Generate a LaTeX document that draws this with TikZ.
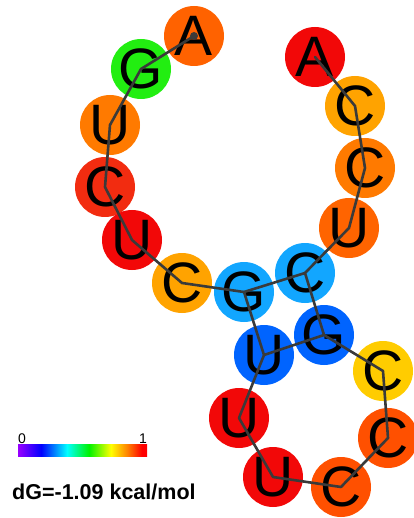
\documentclass[tikz,border=0pt]{standalone}
\usepackage{fontspec}
\setmainfont{Liberation Sans}
\definecolor{cA1}{RGB}{255,98,0}
\definecolor{cG2}{RGB}{34,238,17}
\definecolor{cor}{RGB}{255,122,0}
\definecolor{crd}{RGB}{242,44,16}
\definecolor{red1}{RGB}{242,8,8}
\definecolor{cyo}{RGB}{255,163,0}
\definecolor{lblue}{RGB}{18,166,255}
\definecolor{dblue}{RGB}{0,100,255}
\definecolor{cor2}{RGB}{255,80,0}
\definecolor{cyel}{RGB}{255,204,0}
\definecolor{cor3}{RGB}{255,100,0}
\definecolor{linegray}{RGB}{58,58,58}
\pgfdeclarehorizontalshading{rainbowbar}{100bp}{rgb(0bp)=(0.6,0,1); rgb(25bp)=(0.6,0,1); rgb(34bp)=(0,0,1); rgb(44bp)=(0,1,1); rgb(52.5bp)=(0,0.95,0); rgb(61bp)=(1,1,0); rgb(67.5bp)=(1,0.5,0); rgb(73bp)=(1,0,0); rgb(100bp)=(1,0,0)}
\tikzset{
  nt/.style={circle, minimum size=60pt, inner sep=0pt},
  ltr/.style={font=\fontsize{57}{57}\selectfont, inner sep=0pt},
  bb/.style={line width=2.6pt, draw=linegray, line join=round, line cap=round},
}
\begin{document}
\begin{tikzpicture}[x=1pt,y=-1pt]
\useasboundingbox (0,0) rectangle (413,518);
% circles
\node[nt,fill=cA1]   (n1)  at (194,36)  {};
\node[nt,fill=cG2]   (n2)  at (141,69)  {};
\node[nt,fill=cor]   (n3)  at (110,125) {};
\node[nt,fill=crd]   (n4)  at (105,187) {};
\node[nt,fill=red1]  (n5)  at (132,240) {};
\node[nt,fill=cyo]   (n6)  at (182,283) {};
\node[nt,fill=lblue] (n7)  at (244,292) {};
\node[nt,fill=dblue] (n8)  at (264,355) {};
\node[nt,fill=red1]  (n9)  at (239,418) {};
\node[nt,fill=red1]  (n10) at (273,477) {};
\node[nt,fill=cor2]  (n11) at (341,487) {};
\node[nt,fill=cor2]  (n12) at (388,438) {};
\node[nt,fill=cyel]  (n13) at (383,371) {};
\node[nt,fill=dblue] (n14) at (324,335) {};
\node[nt,fill=lblue] (n15) at (305,273) {};
\node[nt,fill=cor3]  (n16) at (349,228) {};
\node[nt,fill=cor]   (n17) at (365,168) {};
\node[nt,fill=cyo]   (n18) at (355,106) {};
\node[nt,fill=red1]  (n19) at (315,57)  {};
% letters
\node[ltr] (t1)  at (n1)  {A};
\node[ltr] (t2)  at (n2)  {G};
\node[ltr] (t3)  at (n3)  {U};
\node[ltr] (t4)  at (n4)  {C};
\node[ltr] (t5)  at (n5)  {U};
\node[ltr] (t6)  at (n6)  {C};
\node[ltr] (t7)  at (n7)  {G};
\node[ltr] (t8)  at (n8)  {U};
\node[ltr] (t9)  at (n9)  {U};
\node[ltr] (t10) at (n10) {U};
\node[ltr] (t11) at (n11) {C};
\node[ltr] (t12) at (n12) {C};
\node[ltr] (t13) at (n13) {C};
\node[ltr] (t14) at (n14) {G};
\node[ltr] (t15) at (n15) {C};
\node[ltr] (t16) at (n16) {U};
\node[ltr] (t17) at (n17) {C};
\node[ltr] (t18) at (n18) {C};
\node[ltr] (t19) at (n19) {A};
% backbone
\draw[bb] (n1.center) -- (n2.center) -- (n3.center) -- (n4.center) -- (n5.center)
  -- (n6.center) -- (n7.center) -- (n8.center) -- (n9.center) -- (n10.center)
  -- (n11.center) -- (n12.center) -- (n13.center) -- (n14.center) -- (n15.center)
  -- (n16.center) -- (n17.center) -- (n18.center) -- (n19.center);
% pairs
\draw[bb] (n7.center) -- (n15.center);
\draw[bb] (n8.center) -- (n14.center);
\fill[linegray] (n1.center) circle (4pt);
% legend
\node[anchor=center, minimum width=129pt, minimum height=12pt, inner sep=0pt, shading=rainbowbar] (bar) at (82.5,450) {};
\node[anchor=base west, inner sep=0pt, font=\fontsize{14}{14}\selectfont] (l0) at (bar.north west) {0};
\node[anchor=base east, inner sep=0pt, font=\fontsize{14}{14}\selectfont] (l1) at (bar.north east) {1};
\node[anchor=base west, inner sep=0pt, font=\bfseries\fontsize{21.5}{21.5}\selectfont] (dg) at (12,499) {dG=-1.09 kcal/mol};
\end{tikzpicture}
\end{document}
